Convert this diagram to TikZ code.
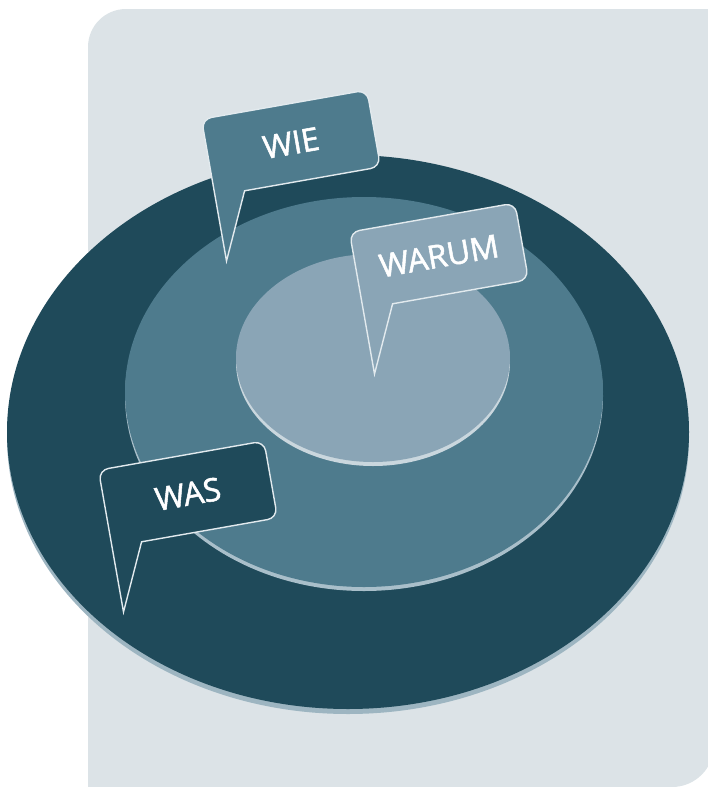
\documentclass[tikz,border=0pt]{standalone}
\usepackage{fontspec}
\setmainfont{Open Sans}
\newfontfamily\bubblefont[FakeBold=1.6]{Open Sans}

\definecolor{panel}{HTML}{DCE3E7}
\definecolor{ringouter}{HTML}{1F4A5A}
\definecolor{ringmid}{HTML}{4E7B8D}
\definecolor{ringinner}{HTML}{8AA5B6}
\definecolor{rimouter}{HTML}{9DB5C1}
\definecolor{rimmid}{HTML}{A9BFCA}
\definecolor{riminner}{HTML}{CAD7DE}
\definecolor{bubbleline}{HTML}{E2EAEE}

\tikzset{
  bubble/.style={draw=bubbleline, line width=1.4pt, line join=miter},
  bubbletext/.style={text=white, font=\bubblefont\fontsize{32}{38}\selectfont, rotate=10, inner sep=0pt},
}

% speech bubble: #1 node name, #2 centre, #3 fill colour, #4 label
\newcommand{\speechbubble}[4]{%
  \begin{scope}[shift={#2}, rotate=10]
    \filldraw[bubble, fill=#3]
      (-84,105) -- (-84,-29)
      arc[start angle=180, end angle=270, radius=10] -- (74,-39)
      arc[start angle=270, end angle=360, radius=10] -- (84,29)
      arc[start angle=0, end angle=90, radius=10] -- (-54,39) -- cycle;
    \node[bubbletext] (#1) at (0,0) {#4};
  \end{scope}}

\begin{document}
\begin{tikzpicture}[x=1pt, y=-1pt]
  \useasboundingbox (0,0) rectangle (707,787);

  % background panel
  \fill[panel] (88,787) -- (88,47)
    arc[start angle=180, end angle=270, radius=38] -- (714,9) -- (714,745)
    arc[start angle=0, end angle=90, radius=42] -- cycle;

  % outer ring
  \fill[rimouter] (348,437) ellipse[x radius=341, y radius=277];
  \fill[ringouter] (348,432) ellipse[x radius=341, y radius=277];

  % middle ring
  \fill[rimmid] (364,396) ellipse[x radius=239, y radius=195];
  \fill[ringmid] (364,392) ellipse[x radius=239, y radius=195];

  % inner ring
  \fill[riminner] (373,362) ellipse[x radius=137, y radius=104];
  \fill[ringinner] (373,358) ellipse[x radius=137, y radius=104];

  % speech bubbles
  \speechbubble{wie}{(291,143)}{ringmid}{WIE}
  \speechbubble{warum}{(439,256)}{ringinner}{WARUM}
  \speechbubble{was}{(188,494)}{ringouter}{WAS}
\end{tikzpicture}
\end{document}
